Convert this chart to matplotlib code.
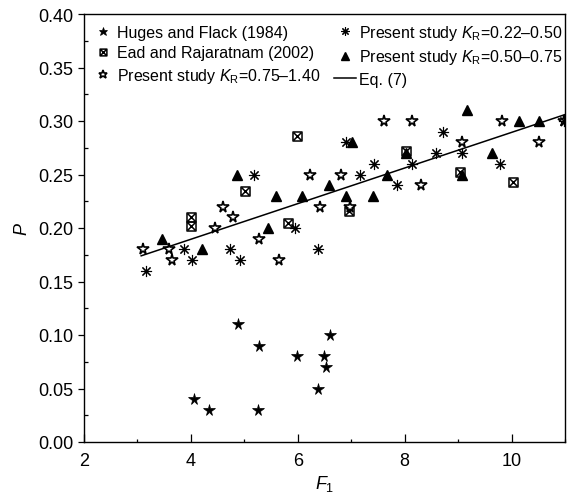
import matplotlib
matplotlib.use("Agg")
import matplotlib.pyplot as plt
from matplotlib.path import Path
from matplotlib.ticker import MultipleLocator

plt.rcParams['font.family'] = ['Liberation Sans', 'DejaVu Sans']
plt.rcParams['mathtext.fontset'] = 'custom'
plt.rcParams['mathtext.rm'] = 'Liberation Sans'
plt.rcParams['mathtext.it'] = 'Liberation Sans:italic'

# ---- data ----
huges_F = [4.06, 4.33, 4.89, 5.26, 5.28, 5.98, 6.38, 6.50, 6.53, 6.61]
huges_P = [0.04, 0.03, 0.11, 0.03, 0.09, 0.08, 0.05, 0.08, 0.07, 0.10]

ead_F = [4.01, 4.01, 5.01, 5.82, 5.98, 6.95, 8.02, 9.03, 10.03]
ead_P = [0.210, 0.202, 0.235, 0.205, 0.286, 0.216, 0.272, 0.252, 0.243]

kr1_F = [3.16, 3.88, 4.03, 4.74, 4.92, 5.19, 5.94, 6.37, 6.91, 7.17, 7.43,
         7.85, 8.14, 8.58, 8.72, 9.08, 9.79, 10.98]
kr1_P = [0.16, 0.18, 0.17, 0.18, 0.17, 0.25, 0.20, 0.18, 0.28, 0.25, 0.26,
         0.24, 0.26, 0.27, 0.29, 0.27, 0.26, 0.30]

kr2_F = [3.46, 4.21, 4.87, 5.45, 5.60, 6.07, 6.59, 6.91, 7.02, 7.40, 7.67,
         8.02, 9.08, 9.16, 9.63, 10.13, 10.51]
kr2_P = [0.19, 0.18, 0.25, 0.20, 0.23, 0.23, 0.24, 0.23, 0.28, 0.23, 0.25,
         0.27, 0.25, 0.31, 0.27, 0.30, 0.30]

kr3_F = [3.11, 3.59, 3.64, 4.46, 4.61, 4.79, 5.28, 5.64, 6.22, 6.42, 6.81,
         6.98, 7.61, 8.14, 8.30, 9.08, 9.83, 10.51, 10.99]
kr3_P = [0.18, 0.18, 0.17, 0.20, 0.22, 0.21, 0.19, 0.17, 0.25, 0.22, 0.25,
         0.22, 0.30, 0.30, 0.24, 0.28, 0.30, 0.28, 0.30]

eq_F = [3.07, 11.0]
eq_P = [0.174, 0.306]

labels = ["Huges and Flack (1984)",
          "Ead and Rajaratnam (2002)",
          "Present study $K_\\mathrm{R}$=0.75\u20131.40",
          "Present study $K_\\mathrm{R}$=0.22\u20130.50",
          "Present study $K_\\mathrm{R}$=0.50\u20130.75",
          "Eq. (7)"]

# ---- markers ----
box_x = Path([(-1, -1), (1, -1), (1, 1), (-1, 1), (-1, -1),
              (-0.75, -0.75), (0.75, 0.75), (-0.75, 0.75), (0.75, -0.75)],
             [Path.MOVETO, Path.LINETO, Path.LINETO, Path.LINETO, Path.CLOSEPOLY,
              Path.MOVETO, Path.LINETO, Path.MOVETO, Path.LINETO])

fig = plt.figure(figsize=(5.70, 5.02), dpi=100)
ax = fig.add_axes([84 / 570, 1 - 443 / 502, (565 - 84) / 570, (443 - 15) / 502])

h1, = ax.plot(huges_F, huges_P, ls='none', marker='*', ms=8.5, color='black',
              mec='black', mew=0.5)
h2, = ax.plot(ead_F, ead_P, ls='none', marker=box_x, ms=6.5, mfc='none',
              mec='black', mew=1.1)
h3, = ax.plot(kr3_F, kr3_P, ls='none', marker='*', ms=8.5, mfc='white',
              mec='black', mew=1.2)
h4, = ax.plot(kr1_F, kr1_P, ls='none', marker=(8, 2, 0), ms=8, color='black',
              mew=0.8)
h5, = ax.plot(kr2_F, kr2_P, ls='none', marker='^', ms=7.5, color='black')
h6, = ax.plot(eq_F, eq_P, color='black', lw=1.1)

ax.set_xlim(2, 11)
ax.set_ylim(0, 0.40)
ax.xaxis.set_major_locator(MultipleLocator(2))
ax.xaxis.set_minor_locator(MultipleLocator(1))
ax.yaxis.set_major_locator(MultipleLocator(0.05))
ax.yaxis.set_minor_locator(MultipleLocator(0.025))
ax.set_yticklabels([f"{v:.2f}" for v in ax.get_yticks()])

ax.tick_params(axis='x', which='major', direction='in', length=5.5, width=0.9,
               labelsize=13, pad=7)
ax.tick_params(axis='x', which='minor', direction='in', length=2.5, width=0.9)
ax.tick_params(axis='y', which='major', direction='out', length=4.3, width=0.9,
               labelsize=13, pad=3.5)
ax.tick_params(axis='y', which='minor', direction='in', length=3, width=0.9)
for s in ax.spines.values():
    s.set_linewidth(1.0)

ax.set_xlabel("$F_1$", fontsize=13, labelpad=3)
ax.set_ylabel("$P$", fontsize=13, labelpad=5)

leg = ax.legend([h1, h2, h3, h4, h5, h6], labels, ncol=2, frameon=False,
                fontsize=11.5, loc='upper left', bbox_to_anchor=(0.0162, 0.98),
                borderaxespad=0, borderpad=0, handlelength=1.4,
                handletextpad=0.175, columnspacing=0.83, labelspacing=0.35,
                numpoints=1, markerscale=0.75)

fig.savefig("out.png", dpi=100)
